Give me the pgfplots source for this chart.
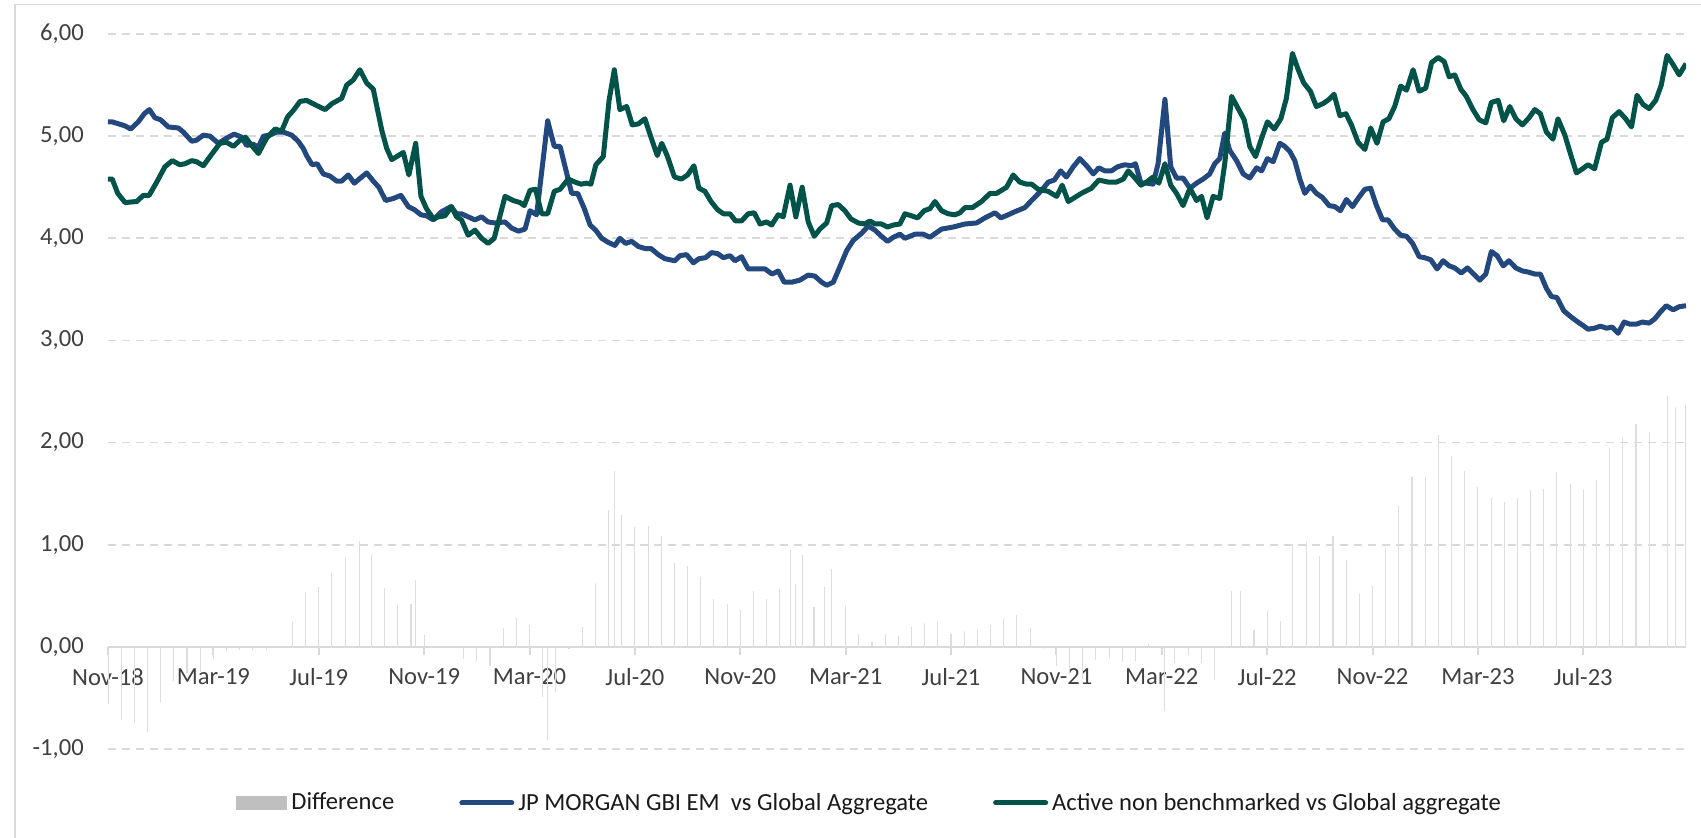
\documentclass[border=0pt]{standalone}
\usepackage{pgfplots}
\pgfplotsset{compat=1.18}
\usepackage{fontspec}
\setmainfont{Carlito}
\definecolor{jpblue}{HTML}{22487E}
\definecolor{actgreen}{HTML}{01534A}
\definecolor{gridgray}{HTML}{D9D9D9}
\definecolor{bargray}{HTML}{DDDDDD}
\definecolor{legbar}{HTML}{BFBFBF}
\definecolor{ticktext}{HTML}{404040}
\definecolor{legtext}{HTML}{1A1A1A}
\begin{document}
\begin{tikzpicture}
\useasboundingbox (0pt,0pt) rectangle (850.5pt,418.5pt);
\draw[gridgray, line width=0.75pt] (7.5pt,-2pt) -- (7.5pt,416.25pt) -- (852pt,416.25pt);
\begin{axis}[
  at={(54pt,44pt)}, anchor=south west,
  scale only axis, width=789pt, height=357.5pt,
  xmin=0, xmax=59.9, ymin=-1, ymax=6,
  axis x line=middle, axis y line=left,
  every inner x axis line/.append style={-},
  x axis line style={-, draw=gridgray, line width=1pt},
  y axis line style={draw=none},
  hide obscured x ticks=false, hide obscured y ticks=false,
  xtick={0,4,...,56},
  xticklabels={Nov-18,Mar-19,Jul-19,Nov-19,Mar-20,Jul-20,Nov-20,Mar-21,Jul-21,Nov-21,Mar-22,Jul-22,Nov-22,Mar-23,Jul-23},
  ytick={-1,0,1,2,3,4,5,6},
  xtick align=outside,
  major tick length=4pt,
  xtick style={draw=gridgray, line width=1pt},
  ytick style={draw=none},
  ymajorgrids,
  major grid style={draw=gridgray, line width=0.9pt, dash pattern=on 4pt off 3pt},
  xticklabel style={font=\fontsize{12.3}{14}\selectfont, text=ticktext, yshift=-3.2pt},
  yticklabel style={font=\fontsize{12.3}{14}\selectfont, text=ticktext, xshift=-6.6pt,
    /pgf/number format/.cd, fixed, fixed zerofill, precision=2, use comma, assume math mode=true},
  legend style={at={(axis description cs:0.0811,-0.0755)}, anchor=west, draw=none, fill=none,
    inner sep=0pt, font=\fontsize{12.3}{14}\selectfont, text=legtext,
    /tikz/every even column/.append style={column sep=30.5pt}},
  legend columns=3,
  legend cell align=left,
]
\addplot[ycomb, draw=bargray, line width=0.55pt, mark=none,
  legend image code/.code={\fill[legbar] (0pt,-3.25pt) rectangle (25pt,3.25pt);}] table {
x y
0 -0.56
0.5 -0.72
1.0 -0.75
1.5 -0.83
2.0 -0.54
2.5 -0.33
3.0 -0.26
3.5 -0.25
4.0 -0.12
4.5 -0.04
5.0 -0.03
5.5 -0.03
6.0 -0.03
6.5 0.01
7.0 0.24
7.5 0.54
8.0 0.59
8.5 0.72
9.0 0.87
9.56 1.04
10.0 0.90
10.5 0.58
11.0 0.41
11.5 0.42
11.68 0.65
12.0 0.12
12.5 0.01
13.0 0.01
13.5 -0.12
14.0 -0.14
14.5 -0.19
15.0 0.18
15.5 0.28
16.0 0.21
16.5 -0.49
16.69 -0.91
17.0 -0.44
17.5 -0.02
18.0 0.19
18.5 0.63
19.0 1.34
19.22 1.72
19.5 1.29
20.0 1.17
20.5 1.18
21.0 1.09
21.5 0.82
22.0 0.79
22.5 0.68
23.0 0.47
23.5 0.42
24.0 0.36
24.5 0.55
25.0 0.47
25.5 0.57
25.89 0.95
26.11 0.62
26.35 0.90
26.8 0.39
27.2 0.59
27.47 0.76
28.0 0.40
28.5 0.13
29.0 0.05
29.5 0.13
30.0 0.11
30.5 0.19
31.0 0.23
31.5 0.24
32.0 0.13
32.5 0.16
33.0 0.17
33.5 0.21
34.0 0.27
34.5 0.31
35.0 0.18
35.5 -0.02
36.0 -0.19
36.5 -0.27
37.0 -0.31
37.5 -0.13
38.0 -0.11
38.5 -0.15
39.0 -0.14
39.5 0.03
40.12 -0.63
40.5 -0.16
41.0 -0.08
41.5 -0.16
42.0 -0.32
42.65 0.55
43.0 0.55
43.5 0.17
44.0 0.35
44.5 0.25
44.96 1.01
45.5 1.03
46.0 0.89
46.5 1.09
47.0 0.85
47.5 0.52
48.0 0.60
48.5 0.97
49.0 1.38
49.5 1.66
50.0 1.66
50.49 2.07
51.0 1.87
51.5 1.72
52.0 1.57
52.5 1.46
53.0 1.42
53.5 1.46
54.0 1.54
54.5 1.55
55.0 1.71
55.5 1.59
56.0 1.54
56.5 1.63
57.0 1.95
57.5 2.04
58.0 2.18
58.5 2.10
59.18 2.46
59.5 2.35
59.9 2.37
};
\addlegendentry{Difference}
\addplot[jpblue, line width=2.5pt, line join=round, mark=none,
  legend image code/.code={\draw[jpblue, line width=2.5pt, line cap=round] (0pt,0pt) -- (25pt,0pt);}] table {
x y
0 5.14
0.16 5.14
0.65 5.10
0.86 5.07
1.15 5.14
1.38 5.22
1.57 5.26
1.78 5.18
2.0 5.16
2.29 5.09
2.67 5.08
2.86 5.04
3.18 4.95
3.36 4.96
3.62 5.01
3.87 5.00
4.19 4.93
4.5 4.98
4.79 5.02
5.07 4.99
5.26 4.91
5.52 4.92
5.7 4.89
5.9 5.0
6.15 5.01
6.4 5.04
6.65 5.04
6.97 5.01
7.22 4.95
7.41 4.88
7.56 4.80
7.75 4.72
7.94 4.73
8.17 4.63
8.42 4.61
8.68 4.56
8.87 4.56
9.12 4.62
9.35 4.54
9.63 4.60
9.82 4.64
10.07 4.56
10.28 4.50
10.54 4.37
10.83 4.39
11.12 4.42
11.4 4.31
11.63 4.28
11.88 4.23
12.09 4.22
12.35 4.18
12.66 4.26
13.02 4.31
13.23 4.24
13.42 4.24
13.67 4.21
13.93 4.18
14.18 4.21
14.43 4.16
14.69 4.15
15.07 4.16
15.32 4.10
15.58 4.07
15.83 4.09
16.02 4.27
16.27 4.23
16.69 5.15
16.94 4.90
17.16 4.90
17.6 4.44
17.83 4.44
18.08 4.29
18.3 4.13
18.51 4.08
18.74 4.00
18.99 3.96
19.24 3.93
19.43 4.00
19.65 3.95
19.88 3.97
20.13 3.92
20.38 3.90
20.61 3.90
20.89 3.84
21.14 3.80
21.52 3.78
21.71 3.83
21.96 3.84
22.22 3.76
22.43 3.80
22.68 3.81
22.91 3.86
23.14 3.85
23.36 3.81
23.61 3.83
23.8 3.78
24.05 3.82
24.3 3.70
24.56 3.70
24.94 3.70
25.21 3.65
25.44 3.68
25.67 3.57
25.95 3.57
26.26 3.59
26.58 3.64
26.83 3.63
27.09 3.57
27.28 3.54
27.53 3.57
27.78 3.72
28.04 3.88
28.29 3.98
28.61 4.05
28.86 4.12
29.11 4.08
29.36 4.02
29.59 3.97
29.81 4.01
30.06 4.04
30.25 4.00
30.63 4.04
30.95 4.04
31.2 4.01
31.64 4.09
32.08 4.11
32.53 4.14
32.97 4.15
33.29 4.20
33.67 4.25
33.89 4.20
34.17 4.23
34.42 4.26
34.8 4.30
35.06 4.37
35.44 4.47
35.69 4.55
35.92 4.57
36.16 4.66
36.38 4.60
36.64 4.70
36.89 4.78
37.18 4.70
37.4 4.63
37.61 4.69
37.84 4.66
38.09 4.66
38.32 4.70
38.6 4.72
38.85 4.71
39.0 4.73
39.21 4.54
39.42 4.54
39.67 4.53
39.86 4.73
40.12 5.36
40.34 4.70
40.56 4.59
40.81 4.59
41.07 4.49
41.32 4.54
41.57 4.58
41.82 4.63
42.01 4.73
42.2 4.78
42.39 5.03
42.58 4.86
42.84 4.76
43.09 4.63
43.34 4.59
43.6 4.69
43.79 4.66
44.01 4.78
44.23 4.75
44.48 4.93
44.67 4.90
44.86 4.85
45.05 4.76
45.24 4.58
45.43 4.44
45.64 4.51
45.87 4.44
46.1 4.40
46.35 4.32
46.57 4.31
46.78 4.27
47.01 4.38
47.24 4.31
47.45 4.39
47.71 4.48
47.93 4.49
48.15 4.32
48.38 4.18
48.59 4.18
48.84 4.09
49.07 4.03
49.29 4.02
49.52 3.95
49.77 3.82
49.98 3.81
50.21 3.79
50.45 3.70
50.68 3.78
50.91 3.73
51.12 3.71
51.37 3.66
51.6 3.71
51.84 3.65
52.07 3.59
52.3 3.65
52.51 3.87
52.73 3.83
52.96 3.73
53.18 3.78
53.44 3.71
53.69 3.68
53.9 3.67
54.16 3.65
54.37 3.65
54.6 3.51
54.79 3.43
55.0 3.42
55.26 3.29
55.49 3.24
55.74 3.19
55.97 3.15
56.18 3.11
56.43 3.12
56.65 3.14
56.88 3.12
57.1 3.13
57.32 3.07
57.55 3.18
57.76 3.16
58.02 3.16
58.24 3.18
58.5 3.17
58.71 3.21
58.93 3.28
59.15 3.34
59.41 3.30
59.64 3.33
59.9 3.34
};
\addlegendentry{JP MORGAN GBI EM\ \ vs Global Aggregate}
\addplot[actgreen, line width=2.5pt, line join=round, mark=none,
  legend image code/.code={\draw[actgreen, line width=2.5pt, line cap=round] (0pt,0pt) -- (25pt,0pt);}] table {
x y
0 4.58
0.16 4.58
0.37 4.44
0.65 4.35
1.09 4.36
1.34 4.42
1.56 4.42
1.85 4.55
2.16 4.70
2.44 4.76
2.73 4.72
2.92 4.73
3.18 4.76
3.36 4.75
3.62 4.71
3.87 4.80
4.25 4.93
4.50 4.94
4.76 4.90
5.01 4.96
5.22 4.99
5.45 4.91
5.71 4.83
6.02 4.98
6.34 5.07
6.59 5.05
6.82 5.19
7.03 5.25
7.29 5.34
7.54 5.35
7.92 5.30
8.24 5.26
8.51 5.32
8.87 5.37
9.06 5.50
9.31 5.55
9.56 5.65
9.82 5.52
10.07 5.46
10.39 5.06
10.58 4.88
10.77 4.77
10.96 4.80
11.21 4.84
11.42 4.62
11.68 4.93
11.88 4.41
12.09 4.29
12.35 4.19
12.54 4.21
12.79 4.22
13.04 4.31
13.23 4.21
13.42 4.18
13.67 4.03
13.93 4.08
14.18 4.00
14.43 3.95
14.66 4.00
15.07 4.41
15.38 4.37
15.64 4.35
15.80 4.32
16.02 4.47
16.23 4.48
16.46 4.24
16.69 4.24
16.94 4.46
17.16 4.48
17.47 4.58
17.73 4.55
17.95 4.53
18.17 4.54
18.33 4.53
18.52 4.72
18.8 4.80
19.02 5.35
19.22 5.65
19.43 5.26
19.69 5.29
19.9 5.11
20.13 5.12
20.38 5.17
20.61 4.99
20.85 4.81
21.02 4.93
21.24 4.80
21.5 4.60
21.77 4.58
22.0 4.62
22.24 4.71
22.43 4.49
22.66 4.46
22.89 4.36
23.14 4.28
23.36 4.24
23.61 4.24
23.82 4.17
24.05 4.17
24.3 4.24
24.53 4.25
24.75 4.14
25.0 4.16
25.19 4.13
25.44 4.23
25.63 4.21
25.89 4.52
26.11 4.21
26.35 4.50
26.58 4.16
26.81 4.02
27.02 4.09
27.28 4.15
27.47 4.32
27.72 4.33
27.97 4.27
28.2 4.19
28.48 4.15
28.73 4.14
28.92 4.17
29.11 4.14
29.36 4.14
29.59 4.11
29.81 4.13
30.06 4.14
30.25 4.24
30.5 4.22
30.73 4.20
30.98 4.27
31.2 4.29
31.39 4.36
31.64 4.27
31.89 4.24
32.15 4.23
32.34 4.25
32.53 4.30
32.81 4.30
33.16 4.36
33.48 4.44
33.73 4.44
34.11 4.50
34.36 4.62
34.61 4.55
34.87 4.53
35.06 4.53
35.31 4.48
35.69 4.46
36.01 4.41
36.22 4.52
36.45 4.36
36.7 4.40
36.95 4.44
37.33 4.49
37.61 4.57
37.97 4.55
38.28 4.55
38.54 4.58
38.73 4.66
38.98 4.59
39.21 4.52
39.42 4.55
39.67 4.60
39.89 4.54
40.12 4.73
40.34 4.52
40.56 4.44
40.81 4.32
41.07 4.49
41.32 4.37
41.51 4.41
41.72 4.20
41.95 4.41
42.2 4.39
42.39 4.73
42.65 5.39
42.9 5.27
43.13 5.16
43.34 4.90
43.56 4.80
43.79 4.98
44.01 5.14
44.27 5.07
44.52 5.17
44.73 5.37
44.96 5.81
45.18 5.65
45.39 5.52
45.64 5.44
45.87 5.29
46.13 5.32
46.35 5.36
46.54 5.41
46.76 5.20
46.99 5.22
47.2 5.11
47.45 4.94
47.71 4.87
47.93 5.08
48.17 4.93
48.4 5.14
48.62 5.17
48.84 5.29
49.07 5.49
49.29 5.45
49.54 5.65
49.77 5.44
50.02 5.47
50.24 5.72
50.49 5.77
50.72 5.73
50.91 5.58
51.12 5.60
51.35 5.46
51.56 5.39
51.79 5.27
52.05 5.16
52.3 5.13
52.51 5.33
52.77 5.35
52.98 5.15
53.21 5.29
53.44 5.17
53.69 5.11
53.94 5.18
54.16 5.26
54.37 5.22
54.6 5.04
54.85 4.97
55.04 5.17
55.3 5.01
55.51 4.83
55.74 4.64
55.97 4.68
56.18 4.72
56.43 4.68
56.69 4.94
56.9 4.97
57.1 5.18
57.36 5.24
57.61 5.17
57.83 5.09
58.04 5.40
58.27 5.31
58.5 5.27
58.75 5.35
58.96 5.50
59.18 5.79
59.41 5.70
59.64 5.60
59.9 5.71
};
\addlegendentry{Active non benchmarked vs Global aggregate}
\end{axis}
\end{tikzpicture}
\end{document}
